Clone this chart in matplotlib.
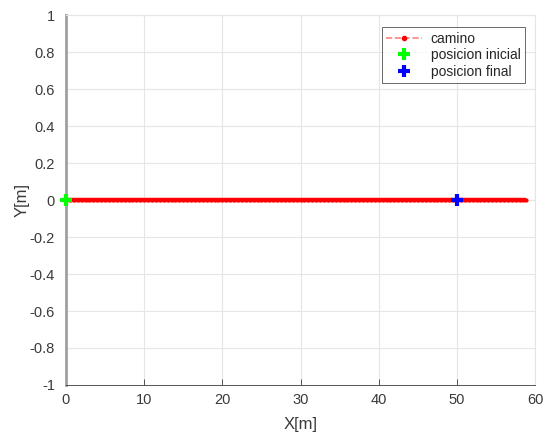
import matplotlib

matplotlib.use("Agg")

import matplotlib.pyplot as plt
from matplotlib.lines import Line2D

# Path samples (x, y) in metres: a straight run along y=0
camino_x = [
    0.0, 0.5, 1.0, 1.5, 2.0, 2.5, 3.0, 3.5, 4.0, 4.5, 5.0, 5.5, 6.0, 6.5, 7.0, 7.5,
    8.0, 8.5, 9.0, 9.5, 10.0, 10.5, 11.0, 11.5, 12.0, 12.5, 13.0, 13.5, 14.0, 14.5,
    15.0, 15.5, 16.0, 16.5, 17.0, 17.5, 18.0, 18.5, 19.0, 19.5, 20.0, 20.5, 21.0,
    21.5, 22.0, 22.5, 23.0, 23.5, 24.0, 24.5, 25.0, 25.5, 26.0, 26.5, 27.0, 27.5,
    28.0, 28.5, 29.0, 29.5, 30.0, 30.5, 31.0, 31.5, 32.0, 32.5, 33.0, 33.5, 34.0,
    34.5, 35.0, 35.5, 36.0, 36.5, 37.0, 37.5, 38.0, 38.5, 39.0, 39.5, 40.0, 40.5,
    41.0, 41.5, 42.0, 42.5, 43.0, 43.5, 44.0, 44.5, 45.0, 45.5, 46.0, 46.5, 47.0,
    47.5, 48.0, 48.5, 49.0, 49.5, 50.0, 50.5, 51.0, 51.5, 52.0, 52.5, 53.0, 53.5,
    54.0, 54.5, 55.0, 55.5, 56.0, 56.5, 57.0, 57.5, 58.0, 58.5, 58.8,
]
camino_y = [0.0] * len(camino_x)

inicio = (0.0, 0.0)
final = (50.0, 0.0)

x_ticks = [0, 10, 20, 30, 40, 50, 60]
y_ticks = [-1, -0.8, -0.6, -0.4, -0.2, 0, 0.2, 0.4, 0.6, 0.8, 1]

_INK = "#3a3a3a"
_GRID = "#e6e6e6"

plt.rcParams["font.family"] = ["Liberation Sans", "DejaVu Sans"]

fig = plt.figure(figsize=(5.5, 4.34), dpi=100)
ax = fig.add_axes([0.12, 0.113, 0.853, 0.852])

# the samples are so dense the red dots merge into one solid stroke
ax.plot(camino_x, camino_y, color="red", linewidth=3.2, solid_capstyle="butt",
        marker="o", markersize=3, markeredgewidth=0, zorder=3)
ax.plot(*inicio, linestyle="none", marker="+", markersize=8, markeredgewidth=3,
        color="#00ff00", zorder=4, clip_on=False)
ax.plot(*final, linestyle="none", marker="+", markersize=8, markeredgewidth=3,
        color="#0000ff", zorder=4)

ax.set_xlim(0, 60)
ax.set_ylim(-1, 1)
ax.set_xticks(x_ticks)
ax.set_yticks(y_ticks)
ax.set_xticklabels([str(t) for t in x_ticks])
ax.set_yticklabels(["0" if t == 0 else f"{t:g}" for t in y_ticks])
ax.grid(True, color=_GRID, linewidth=0.8)
ax.set_axisbelow(True)

ax.tick_params(colors=_INK, labelsize=10.5, direction="in", length=4, width=0.6)
ax.tick_params(axis="x", pad=6)
ax.tick_params(axis="y", length=0, pad=8)
for name, spine in ax.spines.items():
    if name in ("top", "right"):
        spine.set_color(_GRID)
        spine.set_linewidth(0.8)
    elif name == "left":
        spine.set_color("#a0a0a0")
        spine.set_linewidth(2)
    else:
        spine.set_color(_INK)
        spine.set_linewidth(0.6)

ax.set_xlabel("X[m]", fontsize=12, color=_INK, labelpad=7)
ax.set_ylabel("Y[m]", fontsize=12, color=_INK, labelpad=0)

handles = [
    Line2D([], [], color="#ff8080", linestyle="--", linewidth=1.2, marker=".",
           markersize=6, markerfacecolor="red", markeredgecolor="red"),
    Line2D([], [], linestyle="none", marker="+", markersize=8, markeredgewidth=3,
           color="#00ff00"),
    Line2D([], [], linestyle="none", marker="+", markersize=8, markeredgewidth=3,
           color="#0000ff"),
]
labels = ["camino", "posicion inicial", "posicion final"]
leg = ax.legend(handles, labels, loc="upper right", bbox_to_anchor=(0.978, 0.967),
                fontsize=10, frameon=True, fancybox=False, edgecolor="#262626",
                handlelength=2.6, borderpad=0.3, labelspacing=0.2,
                handletextpad=0.6, borderaxespad=0)
leg.get_frame().set_linewidth(0.6)
for text in leg.get_texts():
    text.set_color("#262626")

fig.savefig("out.png", dpi=100, facecolor="white")
